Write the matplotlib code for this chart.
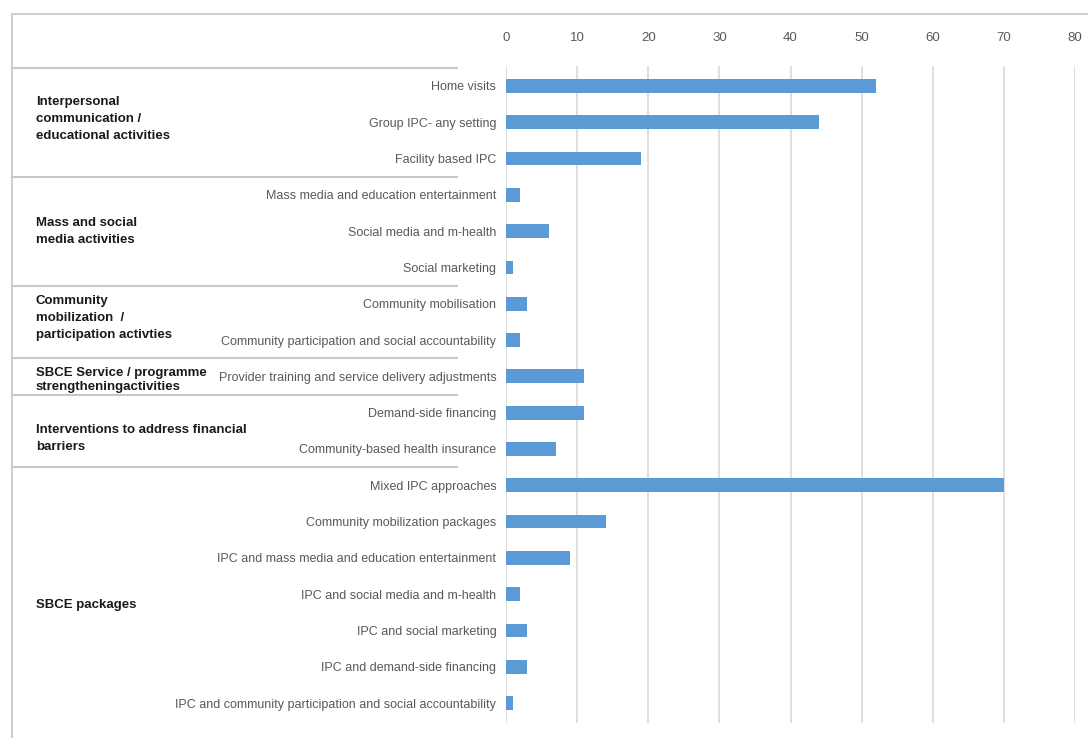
import matplotlib
matplotlib.use("Agg")
import matplotlib.pyplot as plt
from matplotlib.lines import Line2D
import matplotlib.transforms as mtransforms
import warnings
warnings.filterwarnings("ignore")

categories = [
    "Home visits",
    "Group IPC- any setting",
    "Facility based IPC",
    "Mass media and education entertainment",
    "Social media and m-health",
    "Social marketing",
    "Community mobilisation",
    "Community participation and social accountability",
    "Provider training and service delivery adjustments",
    "Demand-side financing",
    "Community-based health insurance",
    "Mixed IPC approaches",
    "Community mobilization packages",
    "IPC and mass media and education entertainment",
    "IPC and social media and m-health",
    "IPC and social marketing",
    "IPC and demand-side financing",
    "IPC and community participation and social accountability",
]
values = [52, 44, 19, 2, 6, 1, 3, 2, 11, 11, 7, 70, 14, 9, 2, 3, 3, 1]

group_labels = [
    "Interpersonal\ncommunication /\neducational activities",
    "Mass and social\nmedia activities",
    "Community\nmobilization  /\nparticipation activties",
    "SBCE Service / programme\nstrengtheningactivities",
    "Interventions to address financial\nbarriers",
    "SBCE packages",
]
group_sizes = [3, 3, 2, 1, 2, 7]
label_offsets = [-0.1, 0.0, -0.1, 0.1, 0.2, 0.3]

xticks = [0, 10, 20, 30, 40, 50, 60, 70, 80]

W, H = 1088, 738
fig = plt.figure(figsize=(W / 100, H / 100), dpi=100)
fam = ["Liberation Sans", "DejaVu Sans"]

ax = fig.add_axes([506 / W, 1 - 723 / H, (1075 - 506) / W, (723 - 66) / H])
ypos = list(range(len(categories)))
ax.barh(ypos, values, height=0.38, color="#5b9bd5", zorder=3)
ax.set_ylim(len(categories) - 0.45, -0.55)
ax.set_xlim(0, 80)
ax.set_xticks(xticks)
ax.xaxis.tick_top()
ax.tick_params(axis="x", length=0, pad=16, labelsize=9.5, labelcolor="#595959")
for lab in ax.get_xticklabels():
    lab.set_family(fam)
ax.set_yticks(ypos)
ax.set_yticklabels(categories, fontsize=9, color="#595959", family=fam)
ax.tick_params(axis="y", length=0, pad=7)
ax.grid(axis="x", color="#d9d9d9", linewidth=1.2, zorder=0)
for s in ax.spines.values():
    s.set_visible(False)

# outer frame (top and left)
fig.add_artist(Line2D([12 / W, 1], [1 - 14 / H, 1 - 14 / H], transform=fig.transFigure,
                      color="#d0d0d0", linewidth=1.5))
fig.add_artist(Line2D([12 / W, 12 / W], [0, 1 - 14 / H], transform=fig.transFigure,
                      color="#d0d0d0", linewidth=1.5))

# group separators and labels
trans = mtransforms.blended_transform_factory(fig.transFigure, ax.transData)
start = 0
for lab, n, off in zip(group_labels, group_sizes, label_offsets):
    fig.add_artist(Line2D([12 / W, 457 / W], [start - 0.5, start - 0.5], transform=trans,
                          color="#c8c8c8", linewidth=1.5))
    center = start + (n - 1) / 2 + off
    ls = 1.3 if "SBCE Service" in lab else 1.55
    fig.text(36 / W, center, lab, transform=trans, ha="left", va="center",
             fontsize=9.5, fontweight="bold", color="#1a1a1a", family=fam,
             linespacing=ls)
    start += n

fig.savefig("out.png", dpi=100)
